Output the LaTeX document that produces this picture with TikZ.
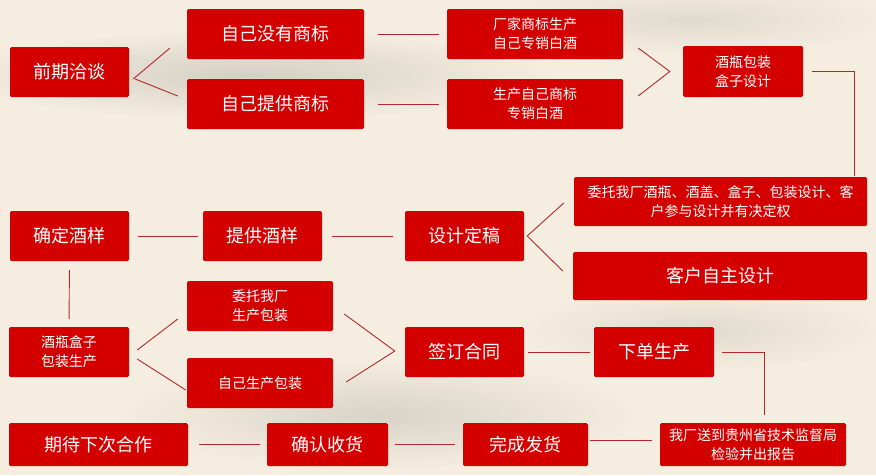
\documentclass[tikz,border=0pt]{standalone}
\usepackage{fontspec}
\usetikzlibrary{calc}
\newfontfamily\cjk{Noto Sans CJK SC}
\definecolor{boxred}{RGB}{212,0,0}
\definecolor{linered}{RGB}{178,40,44}
\definecolor{paper}{RGB}{245,238,224}
\definecolor{ink}{RGB}{205,200,190}
\tikzset{box/.style = {fill=boxred, text=white, rounded corners=1.5pt, inner sep=0pt, align=center, font=\cjk\fontsize{18}{20}\selectfont}}
\tikzset{small/.style = {font=\cjk\fontsize{14}{19}\selectfont}}
\tikzset{link/.style = {draw=linered, line width=0.9pt}}

\begin{document}
\begin{tikzpicture}[x=1pt, y=-1pt]
\fill[paper] (0,0) rectangle (876,475);
\useasboundingbox (0,0) rectangle (876,475);
% ink wash in the background
\shade[inner color=ink, outer color=paper, opacity=0.8] (250,75) ellipse [x radius=300, y radius=45];
\shade[inner color=ink, outer color=paper, opacity=0.7] (380,415) ellipse [x radius=260, y radius=55];
\shade[inner color=ink, outer color=paper, opacity=0.5] (690,20) ellipse [x radius=200, y radius=35];
\shade[inner color=ink, outer color=paper, opacity=0.5] (700,330) ellipse [x radius=180, y radius=40];

\node [box, minimum width=119, minimum height=50] (qianqi) at (69.5,72) {前期洽谈};
\node [box, minimum width=177, minimum height=50] (meiyou) at (275.5,34) {自己没有商标};
\node [box, minimum width=177, minimum height=50] (tigong) at (275.5,104) {自己提供商标};
\node [box, small, minimum width=176, minimum height=50] (changjia) at (535,34) {厂家商标生产\\自己专销白酒};
\node [box, small, minimum width=176, minimum height=50] (shengchan) at (535,104) {生产自己商标\\专销白酒};
\node [box, small, minimum width=120, minimum height=51] (jiuping) at (743,71.5) {酒瓶包装\\盒子设计};
\node [box, small, minimum width=293, minimum height=49] (weituo) at (720.5,201.5) {委托我厂酒瓶、酒盖、盒子、包装设计、客\\户参与设计并有决定权};
\node [box, minimum width=294, minimum height=48] (kehu) at (720,276) {客户自主设计};
\node [box, minimum width=119, minimum height=50] (queding) at (69.5,236) {确定酒样};
\node [box, minimum width=119, minimum height=50] (tigongjy) at (262.5,236) {提供酒样};
\node [box, minimum width=119, minimum height=50] (sheji) at (464.5,236) {设计定稿};
\node [box, small, minimum width=120, minimum height=50] (hezi) at (69,352) {酒瓶盒子\\包装生产};
\node [box, small, minimum width=146, minimum height=50] (weituobz) at (260,306) {委托我厂\\生产包装};
\node [box, small, minimum width=146, minimum height=50] (zijibz) at (260,383) {自己生产包装};
\node [box, minimum width=119, minimum height=50] (qianding) at (464.5,352) {签订合同};
\node [box, minimum width=120, minimum height=50] (xiadan) at (654,352) {下单生产};
\node [box, small, minimum width=186, minimum height=43] (jiance) at (753,444.5) {我厂送到贵州省技术监督局\\检验并出报告};
\node [box, minimum width=125, minimum height=43] (fahuo) at (525.5,444.5) {完成发货};
\node [box, minimum width=121, minimum height=43] (shouhuo) at (327.5,444.5) {确认收货};
\node [box, minimum width=179, minimum height=43] (qidai) at (98.5,444.5) {期待下次合作};

% connectors
\draw [link] ($(qianqi.east)+(4,7)$) -- ($(meiyou.south west)+(-17,-11)$);
\draw [link] ($(qianqi.east)+(6,7)$) -- ($(tigong.west)+(-9,-8)$);
\draw [link, shorten <=14, shorten >=8] (meiyou) -- (changjia);
\draw [link, shorten <=14, shorten >=8] (tigong) -- (shengchan);
\draw [link] ($(changjia.east)+(15,14)$) -- ($(jiuping.west)+(-13,0)$) -- ($(shengchan.east)+(15,-8)$);
\draw [link, shorten <=9, shorten >=1] (jiuping.east) -| ($(weituo.north east)+(-13,0)$);
\draw [link] ($(weituo.west)+(-10,1.5)$) -- ($(sheji.east)+(3,0)$) -- ($(kehu.west)+(-10,-5)$);
\draw [link, shorten <=9, shorten >=5] (queding) -- (tigongjy);
\draw [link, shorten <=10, shorten >=12] (tigongjy) -- (sheji);
\draw [link, shorten <=9, shorten >=8] (queding.south) -- (hezi.north);
\draw [link] ($(hezi.east)+(8,-2)$) -- ($(weituobz.west)+(-9,13)$);
\draw [link] ($(hezi.east)+(8,7)$) -- ($(zijibz.west)+(-1,7)$);
\draw [link] ($(weituobz.east)+(11,8)$) -- ($(qianding.west)+(-10,-1)$) -- ($(zijibz.east)+(13,-1)$);
\draw [link, shorten <=4, shorten >=4] (qianding) -- (xiadan);
\draw [link, shorten <=8, shorten >=8] (xiadan.east) -| ($(jiance.north)+(11,0)$);
\draw [link] ($(jiance.west)+(-8,-4)$) -- ($(fahuo.east)+(2,-4)$);
\draw [link, shorten <=8, shorten >=7] (fahuo) -- (shouhuo);
\draw [link, shorten <=7, shorten >=11] (shouhuo) -- (qidai);
\end{tikzpicture}
\end{document}
